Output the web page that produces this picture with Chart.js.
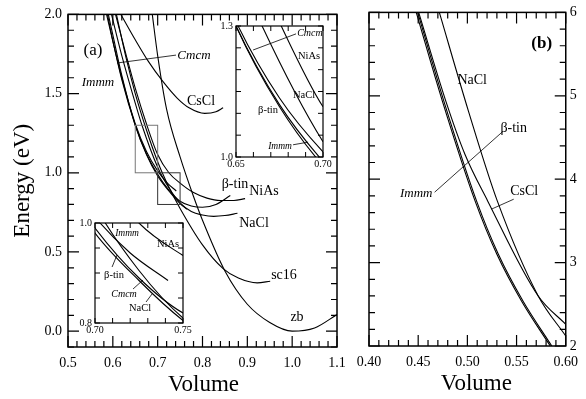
<!DOCTYPE html>
<html>
<head>
<meta charset="utf-8">
<script src="https://cdn.jsdelivr.net/npm/chart.js@4.4.1/dist/chart.umd.min.js"></script>
<style>
html,body{margin:0;padding:0;background:#fff;}
canvas{position:absolute;left:0;top:0;}
</style>
</head>
<body>
<canvas id="panelA" width="586" height="399"></canvas>
<canvas id="insetHigh" width="586" height="399"></canvas>
<canvas id="insetLow" width="586" height="399"></canvas>
<canvas id="panelB" width="586" height="399"></canvas>
<script>
// ---------- Panel (a): energy (eV) against volume ----------
const zbVol    = [0.688, 0.70, 0.72, 0.75, 0.78, 0.80, 0.85, 0.90, 0.95, 1.00, 1.05, 1.10];
const zbE      = [2.00, 1.74, 1.40, 1.10, 0.85, 0.70, 0.38, 0.17, 0.055, 0.0, 0.02, 0.105];
const sc16Vol  = [0.608, 0.63, 0.65, 0.675, 0.70, 0.725, 0.75, 0.80, 0.846, 0.88, 0.922, 0.951];
const sc16E    = [2.00, 1.72, 1.50, 1.27, 1.07, 0.91, 0.775, 0.545, 0.395, 0.335, 0.305, 0.315];
const csclVol  = [0.618, 0.65, 0.68, 0.712, 0.744, 0.77, 0.805, 0.83, 0.846];
const csclE    = [2.00, 1.84, 1.70, 1.575, 1.47, 1.41, 1.375, 1.385, 1.41];
const naclVol  = [0.597, 0.62, 0.65, 0.665, 0.70, 0.725, 0.75, 0.775, 0.80, 0.825, 0.85, 0.878];
const naclE    = [2.00, 1.74, 1.44, 1.30, 1.035, 0.905, 0.81, 0.755, 0.733, 0.725, 0.73, 0.744];
const niasVol  = [0.606, 0.63, 0.65, 0.676, 0.70, 0.725, 0.75, 0.78, 0.81, 0.84, 0.87, 0.895];
const niasE    = [2.00, 1.74, 1.534, 1.30, 1.115, 1.00, 0.935, 0.875, 0.84, 0.825, 0.825, 0.837];
const btinVol  = [0.588, 0.60, 0.62, 0.65, 0.675, 0.70, 0.725, 0.75, 0.775, 0.80, 0.83, 0.862];
const btinE    = [2.00, 1.834, 1.588, 1.30, 1.12, 0.99, 0.89, 0.82, 0.79, 0.782, 0.80, 0.856];
const immmVol  = [0.586, 0.60, 0.62, 0.65, 0.675, 0.70, 0.72, 0.7415];
const immmE    = [2.00, 1.83, 1.60, 1.31, 1.135, 1.012, 0.94, 0.885];
const cmcmVol  = [0.590, 0.60, 0.62, 0.65, 0.675, 0.70, 0.725, 0.75, 0.765];
const cmcmE    = [2.00, 1.87, 1.615, 1.30, 1.115, 0.98, 0.885, 0.805, 0.77];

// ---------- Panel (b): strongly compressed range ----------
const bBtinVol = [0.448, 0.4745, 0.5078, 0.53, 0.555, 0.5843];
const bBtinE   = [6.00, 4.94, 3.74, 3.10, 2.54, 2.00];
const bImmmVol = [0.4495, 0.476, 0.5093, 0.5315, 0.5565, 0.5858];
const bImmmE   = [6.00, 4.94, 3.74, 3.10, 2.54, 2.00];
const bCsclVol = [0.4505, 0.478, 0.4975, 0.5206, 0.572, 0.60];
const bCsclE   = [6.00, 4.94, 4.30, 3.74, 2.60, 2.26];
const bNaclVol = [0.4715, 0.501, 0.5304, 0.572, 0.60];
const bNaclE   = [6.00, 4.82, 3.74, 2.60, 2.12];

// ---------- Tick labels ----------
const ticksAX = [0.5, 0.6, 0.7, 0.8, 0.9, 1.0, 1.1];
const ticksAY = [0.0, 0.5, 1.0, 1.5, 2.0];
const ticksBX = [0.40, 0.45, 0.50, 0.55, 0.60];
const ticksBY = [2, 3, 4, 5, 6];
const ticksHighX = [0.65, 0.70];
const ticksHighY = [1.0, 1.3];
const ticksLowX = [0.70, 0.75];
const ticksLowY = [0.8, 1.0];

const SERIF = '"Liberation Serif", "Times New Roman", serif';
const font = (size, style = 'normal', weight = 'normal') => `${style} ${weight} ${size}px ${SERIF}`;

const seriesA = [
  {name: 'zb', v: zbVol, e: zbE},
  {name: 'sc16', v: sc16Vol, e: sc16E},
  {name: 'CsCl', v: csclVol, e: csclE},
  {name: 'NaCl', v: naclVol, e: naclE},
  {name: 'NiAs', v: niasVol, e: niasE},
  {name: 'β-tin', v: btinVol, e: btinE},
  {name: 'Immm', v: immmVol, e: immmE},
  {name: 'Cmcm', v: cmcmVol, e: cmcmE}
];
const insetNames = ['NaCl', 'NiAs', 'β-tin', 'Immm', 'Cmcm'];
const seriesB = [
  {name: 'β-tin', v: bBtinVol, e: bBtinE},
  {name: 'Immm', v: bImmmVol, e: bImmmE},
  {name: 'CsCl', v: bCsclVol, e: bCsclE},
  {name: 'NaCl', v: bNaclVol, e: bNaclE}
];

function lineSet(s, w) {
  return {
    label: s.name,
    data: s.v.map((x, i) => ({x: x, y: s.e[i]})),
    borderColor: '#000', borderWidth: w, pointRadius: 0, fill: false,
    cubicInterpolationMode: 'monotone'
  };
}

// Axis with a fixed-size label band (band = width or height in px)
function scale(pos, min, max, values, digits, size, pad, band) {
  return {
    type: 'linear', position: pos, min: min, max: max, display: true,
    grid: {display: false, drawTicks: false}, border: {display: false},
    afterBuildTicks(s) { s.ticks = values.map(v => ({value: v})); },
    afterFit(s) { if (s.isHorizontal()) s.height = band; else s.width = band; },
    ticks: {
      autoSkip: false, maxRotation: 0, minRotation: 0, padding: pad, color: '#000',
      font: {family: SERIF, size: size},
      callback: v => Number(v).toFixed(digits)
    }
  };
}

// Frame, inward ticks, zoom boxes, leader lines, annotations and axis titles
const decoPlugin = {
  id: 'deco',
  beforeDraw(chart, args, o) {
    if (!o.fill) return;
    const a = chart.chartArea, c = chart.ctx;
    c.save(); c.fillStyle = '#fff';
    c.fillRect(a.left, a.top, a.right - a.left, a.bottom - a.top);
    c.restore();
  },
  afterDraw(chart, args, o) {
    const c = chart.ctx, a = chart.chartArea;
    const xs = chart.scales.x, ys = chart.scales.y;
    c.save();
    c.strokeStyle = '#000'; c.fillStyle = '#000'; c.lineCap = 'butt';
    const t = o.ticks;
    c.lineWidth = t.width;
    const run = (min, max, minor, major, cb) => {
      const n = Math.round((max - min) / minor);
      for (let i = 0; i <= n; i++) {
        const v = min + i * minor;
        const isMajor = Math.abs(v / major - Math.round(v / major)) < 1e-6;
        cb(v, isMajor ? t.major : t.minor);
      }
    };
    c.beginPath();
    run(xs.min, xs.max, t.xMinor, t.xMajor, (v, len) => {
      const p = xs.getPixelForValue(v);
      c.moveTo(p, a.bottom); c.lineTo(p, a.bottom - len);
      c.moveTo(p, a.top); c.lineTo(p, a.top + len);
    });
    run(ys.min, ys.max, t.yMinor, t.yMajor, (v, len) => {
      const p = ys.getPixelForValue(v);
      c.moveTo(a.left, p); c.lineTo(a.left + len, p);
      c.moveTo(a.right, p); c.lineTo(a.right - len, p);
    });
    c.stroke();
    c.lineWidth = o.frameWidth;
    c.strokeRect(a.left, a.top, a.right - a.left, a.bottom - a.top);

    (o.boxes || []).forEach(b => {
      c.strokeStyle = b.color; c.lineWidth = 1;
      const x0 = xs.getPixelForValue(b.x0), x1 = xs.getPixelForValue(b.x1);
      const y0 = ys.getPixelForValue(b.y0), y1 = ys.getPixelForValue(b.y1);
      c.strokeRect(x0, y1, x1 - x0, y0 - y1);
    });
    c.strokeStyle = '#000';
    (o.leaders || []).forEach(l => {
      c.lineWidth = 0.8;
      c.beginPath();
      c.moveTo(xs.getPixelForValue(l[0]), ys.getPixelForValue(l[1]));
      c.lineTo(xs.getPixelForValue(l[2]), ys.getPixelForValue(l[3]));
      c.stroke();
    });
    c.textAlign = 'center'; c.textBaseline = 'middle';
    (o.labels || []).forEach(l => {
      c.font = font(l.size, l.italic ? 'italic' : 'normal', l.bold ? 'bold' : 'normal');
      c.fillText(l.t, xs.getPixelForValue(l.x), ys.getPixelForValue(l.y));
    });
    (o.titles || []).forEach(tt => {
      c.font = font(tt.size);
      c.save();
      if (tt.side === 'bottom') {
        c.translate((a.left + a.right) / 2 + tt.shift, a.bottom + tt.off);
      } else {
        c.translate(a.left - tt.off, (a.top + a.bottom) / 2 + tt.shift);
        c.rotate(-Math.PI / 2);
      }
      c.fillText(tt.t, 0, 0);
      c.restore();
    });
    c.restore();
  }
};

// box = plot rectangle; bands = label band sizes of the x and y axes
function makeChart(id, box, xCfg, yCfg, bands, datasets, deco) {
  const yRight = yCfg.position === 'right';
  return new Chart(document.getElementById(id), {
    type: 'line',
    data: {datasets: datasets},
    options: {
      responsive: false, animation: false, devicePixelRatio: 1, events: [],
      parsing: false, normalized: true,
      layout: {padding: {
        left: box.l - (yRight ? 0 : bands.y),
        top: box.t,
        right: 586 - box.r - (yRight ? bands.y : 0),
        bottom: 399 - box.b - bands.x
      }},
      scales: {x: xCfg, y: yCfg},
      plugins: {legend: {display: false}, tooltip: {enabled: false}, deco: deco}
    },
    plugins: [decoPlugin]
  });
}

// Panel (a)
makeChart('panelA', {l: 68, t: 12, r: 337, b: 347},
  scale('bottom', 0.5, 1.1, ticksAX, 1, 14, 8, 30),
  scale('left', -0.1, 2.0, ticksAY, 1, 14, 6, 40),
  {x: 30, y: 40},
  seriesA.map(s => lineSet(s, 1.1)),
  {
    frameWidth: 1.5,
    ticks: {xMinor: 0.02, xMajor: 0.1, yMinor: 0.1, yMajor: 0.5, major: 11, minor: 6, width: 1.2},
    boxes: [
      {x0: 0.65, x1: 0.70, y0: 1.0, y1: 1.3, color: '#777'},
      {x0: 0.70, x1: 0.75, y0: 0.8, y1: 1.0, color: '#333'}
    ],
    leaders: [[0.6093, 1.693, 0.7409, 1.743]],
    labels: [
      {t: '(a)', x: 0.5558, y: 1.774, size: 17},
      {t: 'Cmcm', x: 0.7810, y: 1.743, size: 13, italic: true},
      {t: 'Immm', x: 0.5669, y: 1.567, size: 13, italic: true},
      {t: 'CsCl', x: 0.7967, y: 1.448, size: 14},
      {t: 'β-tin', x: 0.8725, y: 0.928, size: 14},
      {t: 'NiAs', x: 0.9372, y: 0.884, size: 14},
      {t: 'NaCl', x: 0.9149, y: 0.683, size: 14},
      {t: 'sc16', x: 0.9818, y: 0.351, size: 14},
      {t: 'zb', x: 1.0108, y: 0.088, size: 14}
    ],
    titles: [
      {t: 'Volume', side: 'bottom', off: 38, shift: 1, size: 23},
      {t: 'Energy (eV)', side: 'left', off: 45, shift: 0, size: 23}
    ]
  });

// Upper inset of (a)
makeChart('insetHigh', {l: 236, t: 26, r: 323, b: 157},
  scale('bottom', 0.65, 0.70, ticksHighX, 2, 10, 1, 14),
  scale('left', 1.0, 1.3, ticksHighY, 1, 10, 3, 18),
  {x: 14, y: 18},
  seriesA.filter(s => insetNames.includes(s.name)).map(s => lineSet(s, 1.1)),
  {
    fill: true, frameWidth: 1.2,
    ticks: {xMinor: 0.01, xMajor: 0.05, yMinor: 0.05, yMajor: 0.3, major: 5, minor: 5, width: 1},
    leaders: [[0.6845, 1.282, 0.6598, 1.245], [0.6828, 1.028, 0.6914, 1.034]],
    labels: [
      {t: 'Cmcm', x: 0.6925, y: 1.284, size: 10, italic: true},
      {t: 'NiAs', x: 0.6920, y: 1.231, size: 10.5},
      {t: 'NaCl', x: 0.6891, y: 1.142, size: 10.5},
      {t: 'β-tin', x: 0.6684, y: 1.108, size: 10.5},
      {t: 'Immm', x: 0.6753, y: 1.025, size: 9.5, italic: true}
    ]
  });

// Lower inset of (a)
makeChart('insetLow', {l: 95, t: 223, r: 183, b: 323},
  scale('bottom', 0.70, 0.75, ticksLowX, 2, 10, 1, 14),
  scale('left', 0.8, 1.0, ticksLowY, 1, 10, 3, 18),
  {x: 14, y: 18},
  seriesA.filter(s => insetNames.includes(s.name)).map(s => lineSet(s, 1.1)),
  {
    fill: true, frameWidth: 1.2,
    ticks: {xMinor: 0.01, xMajor: 0.05, yMinor: 0.05, yMajor: 0.2, major: 5, minor: 5, width: 1},
    leaders: [[0.7097, 0.912, 0.7125, 0.936], [0.7216, 0.868, 0.7273, 0.886], [0.7290, 0.842, 0.7324, 0.858]],
    labels: [
      {t: 'Immm', x: 0.7182, y: 0.980, size: 9.5, italic: true},
      {t: 'NiAs', x: 0.7415, y: 0.958, size: 10.5},
      {t: 'β-tin', x: 0.7108, y: 0.896, size: 10.5},
      {t: 'Cmcm', x: 0.7165, y: 0.858, size: 10, italic: true},
      {t: 'NaCl', x: 0.7256, y: 0.830, size: 10.5}
    ]
  });

// Panel (b)
makeChart('panelB', {l: 369, t: 12, r: 573, b: 346},
  scale('bottom', 0.40, 0.60, ticksBX, 2, 14, 8, 30),
  scale('right', 2, 6, ticksBY, 0, 14, 4, 13),
  {x: 30, y: 13},
  seriesB.map(s => lineSet(s, 1.1)),
  {
    frameWidth: 1.5,
    ticks: {xMinor: 0.01, xMajor: 0.05, yMinor: 0.2, yMajor: 1, major: 11, minor: 6, width: 1.2},
    leaders: [[0.5363, 4.575, 0.4667, 3.844], [0.5471, 3.760, 0.5245, 3.641]],
    labels: [
      {t: '(b)', x: 0.5755, y: 5.629, size: 17, bold: true},
      {t: 'NaCl', x: 0.5049, y: 5.186, size: 14},
      {t: 'β-tin', x: 0.5471, y: 4.611, size: 14},
      {t: 'Immm', x: 0.4480, y: 3.832, size: 13, italic: true},
      {t: 'CsCl', x: 0.5578, y: 3.856, size: 14}
    ],
    titles: [
      {t: 'Volume', side: 'bottom', off: 38, shift: 9, size: 23}
    ]
  });
</script>
</body>
</html>
